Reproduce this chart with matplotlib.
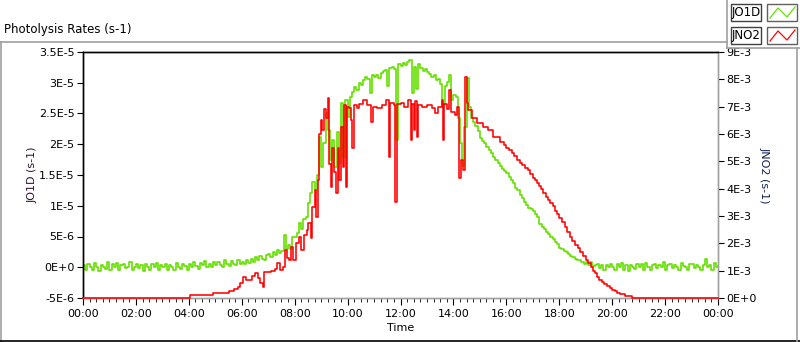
import numpy as np
import matplotlib
matplotlib.use('Agg')
import matplotlib.pyplot as plt
from matplotlib.lines import Line2D
from matplotlib.patches import Rectangle
from matplotlib.ticker import MultipleLocator, FuncFormatter

# JO1D, 5-minute samples from 00:00 to 24:00, in 1E-6 s-1 (one row per hour)
jo1d_e6 = [
    0.3, -0.5, 0.6, 0.1, -0.4, 0.7, 0.0, -0.6, 0.4, 0.1, -0.3, 0.8,
    -0.4, 0.5, 0.0, 0.7, -0.5, 0.3, 0.6, -0.2, 0.1, 0.9, -0.4, 0.0,
    0.5, -0.2, 0.3, -0.6, 0.6, 0.1, -0.4, 0.5, 0.0, 0.7, -0.5, 0.3,
    0.1, 0.6, -0.4, 0.3, 0.0, -0.5, 0.7, 0.1, -0.3, 0.5, 0.2, -0.4,
    0.5, 0.1, 0.8, 0.2, -0.3, 0.7, 0.3, 1.0, 0.1, 0.6, 0.0, 0.8,
    0.3, 0.9, 0.4, 0.1, 1.1, 0.5, 0.2, 1.0, 0.6, 0.3, 1.2, 0.5,
    0.8, 0.5, 1.2, 0.7, 1.4, 0.9, 1.6, 1.1, 1.9, 1.4, 1.2, 2.0,
    2.2, 1.7, 2.5, 2.0, 2.8, 2.3, 2.6, 5.2, 3.0, 3.6, 2.9, 5.0,
    4.9, 5.5, 7.2, 6.3, 7.8, 8.2, 10.4, 12.1, 13.9, 12.6, 15.0, 21.2,
    16.3, 20.2, 25.1, 22.3, 17.4, 20.7, 16.3, 22.0, 17.0, 26.7, 17.9, 27.2,
    24.4, 27.7, 28.5, 29.3, 28.8, 30.0, 29.6, 30.4, 31.0, 30.6, 28.3, 31.2,
    30.9, 31.3, 30.7, 31.6, 31.9, 32.0, 29.5, 32.4, 32.6, 32.2, 20.7, 33.0,
    32.8, 33.2, 32.9, 33.4, 33.7, 28.3, 32.6, 29.0, 33.0, 32.4, 31.9, 32.3,
    31.7, 31.4, 30.9, 31.2, 30.4, 30.6, 29.8, 26.4, 29.5, 30.2, 31.3, 27.2,
    28.0, 27.7, 24.3, 20.2, 16.5, 22.8, 30.8, 26.0, 24.3, 23.6, 23.0, 22.1,
    21.0, 20.6, 20.2, 19.6, 19.1, 18.6, 17.9, 17.4, 17.0, 16.4, 16.0, 15.6,
    15.3, 14.7, 14.2, 13.7, 12.9, 12.5, 11.7, 11.3, 10.6, 10.2, 9.7, 9.5,
    9.1, 8.6, 8.1, 7.0, 6.6, 6.3, 5.8, 5.4, 4.9, 4.6, 4.1, 3.7,
    3.2, 3.0, 2.6, 2.4, 2.1, 1.8, 1.6, 1.3, 1.1, 1.2, 0.8, 0.6,
    0.9, 0.4, 0.8, 0.2, 0.3, 0.6, -0.1, 0.4, -0.4, 0.3, 0.1, 0.6,
    0.1, -0.5, 0.5, 0.0, 0.7, -0.4, 0.3, -0.6, 0.4, 0.1, -0.3, 0.6,
    0.0, 0.5, -0.4, 0.7, 0.1, -0.5, 0.3, 0.6, -0.2, 0.4, 0.0, 0.8,
    -0.4, 0.3, 0.6, -0.2, 0.4, 0.1, -0.5, 0.7, 0.2, 0.0, -0.4, 0.5,
    0.6, -0.2, 0.3, 0.1, -0.5, 0.4, 1.3, 0.0, 0.3, -0.4, 0.7, 0.1,
    0.2,
]
jo1d_hours = np.arange(len(jo1d_e6)) * 5 / 60

# JNO2 change points (hours) and values in 1E-3 s-1
jno2_hours = [
    0.0, 4.05, 4.9, 5.5, 5.7, 5.85, 5.95, 6.05, 6.15, 6.4, 6.5, 6.6, 6.7, 6.8, 6.85,
    7.1, 7.25, 7.35, 7.45, 7.55, 7.62, 7.72, 7.8, 7.88, 7.95, 8.05, 8.15, 8.25, 8.35,
    8.45, 8.52, 8.6, 8.65, 8.75, 8.8, 8.88, 8.93, 9.0, 9.05, 9.12, 9.18, 9.25, 9.3,
    9.37, 9.42, 9.5, 9.57, 9.62, 9.68, 9.75, 9.82, 9.88, 9.93, 9.98, 10.05, 10.12,
    10.18, 10.25, 10.35, 10.45, 10.6, 10.75, 10.88, 10.95, 11.1, 11.3, 11.45, 11.55,
    11.6, 11.75, 11.8, 11.85, 12.0, 12.15, 12.3, 12.38, 12.43, 12.5, 12.55, 12.62,
    12.68, 12.8, 13.0, 13.2, 13.3, 13.4, 13.55, 13.6, 13.65, 13.75, 13.82, 13.92,
    14.05, 14.15, 14.22, 14.3, 14.37, 14.43, 14.5, 14.55, 14.7, 14.9, 15.1, 15.3,
    15.5, 15.75, 15.9, 16.0, 16.1, 16.2, 16.3, 16.4, 16.5, 16.6, 16.7, 16.8, 16.9,
    17.0, 17.08, 17.16, 17.23, 17.3, 17.4, 17.5, 17.58, 17.65, 17.75, 17.85, 17.92,
    18.0, 18.1, 18.2, 18.3, 18.4, 18.5, 18.6, 18.7, 18.8, 18.9, 19.0, 19.1, 19.2,
    19.28, 19.35, 19.42, 19.5, 19.6, 19.7, 19.8, 19.9, 20.0, 20.1, 20.2, 20.3,
    20.5, 20.75, 24.0,
]
jno2_e3 = [
    0.0, 0.11, 0.18, 0.26, 0.33, 0.40, 0.55, 0.77, 0.66, 0.80, 0.91, 0.75, 0.55, 0.40, 0.95,
    0.98, 1.06, 1.28, 1.02, 1.13, 1.75, 1.45, 1.39, 1.86, 1.39, 2.0, 2.23, 1.75, 2.3,
    2.5, 2.74, 2.2, 3.33, 3.95, 2.96, 4.3, 6.0, 6.5, 6.15, 6.9, 6.6, 7.3, 4.9,
    4.06, 5.5, 4.6, 3.84, 5.5, 4.3, 6.26, 4.8, 7.06, 4.06, 7.0, 6.95, 6.5,
    5.5, 7.06, 6.95, 7.1, 7.24, 7.05, 6.44, 7.0, 6.95, 7.05, 7.24, 5.16,
    7.13, 7.05, 3.5, 7.1, 7.13, 7.0, 7.24, 5.78, 7.1, 6.15, 7.2, 5.9,
    7.05, 7.0, 7.05, 6.95, 6.77, 7.0, 7.24, 5.78, 7.1, 6.9, 7.6, 6.8,
    6.7, 7.0, 4.39, 5.05, 4.7, 8.09, 7.13, 6.88, 6.6, 6.4, 6.26, 6.15,
    5.9, 5.7, 5.6, 5.5, 5.4, 5.3, 5.18, 5.05, 4.95, 4.85, 4.76, 4.68, 4.55,
    4.4, 4.3, 4.2, 4.1, 4.0, 3.85, 3.7, 3.6, 3.48, 3.35, 3.2, 3.07,
    2.93, 2.78, 2.6, 2.42, 2.23, 2.1, 1.95, 1.82, 1.68, 1.55, 1.4, 1.27, 1.13,
    1.0, 0.9, 0.78, 0.66, 0.58, 0.5, 0.43, 0.37, 0.31, 0.25, 0.2, 0.15,
    0.08, 0.0, 0.0,
]

green = '#66e000'
red = '#ff0000'
gray = '#a0a0a0'


def sci_label(v, pos=None):
    if abs(v) < 1e-12:
        return '0E+0'
    e = int(np.floor(np.log10(abs(v)) + 1e-9))
    m = round(v / 10 ** e, 3)
    return f'{m:g}E{e:+d}' if e >= 0 else f'{m:g}E{e}'


plt.rcParams['font.family'] = ['DejaVu Sans']
plt.rcParams['font.size'] = 8

fig = plt.figure(figsize=(8, 3.42), dpi=100)
ax = fig.add_axes([83 / 800, 44 / 342, 635 / 800, 246 / 342])
ax2 = ax.twinx()

ax.plot(jo1d_hours, np.array(jo1d_e6) * 1e-6, color=green, lw=1.2, drawstyle='steps-post')
ax2.plot(jno2_hours, np.array(jno2_e3) * 1e-3, color=red, lw=1.15, drawstyle='steps-post',
         clip_on=False, zorder=3)

ax.set_xlim(0, 24)
ax.set_ylim(-5e-6, 3.5e-5)
ax2.set_ylim(0, 9e-3)

ax.xaxis.set_major_locator(MultipleLocator(2))
ax.xaxis.set_minor_locator(MultipleLocator(0.25))
ax.xaxis.set_major_formatter(FuncFormatter(lambda h, p: f'{int(round(h)) % 24:02d}:00'))
ax.yaxis.set_major_locator(MultipleLocator(5e-6))
ax.yaxis.set_major_formatter(FuncFormatter(sci_label))
ax2.yaxis.set_major_locator(MultipleLocator(1e-3))
ax2.yaxis.set_major_formatter(FuncFormatter(sci_label))

ax.tick_params(axis='x', which='major', length=5, pad=3, labelsize=8)
ax.tick_params(axis='x', which='minor', length=3)
ax.tick_params(axis='y', length=4, pad=2, labelsize=8)
ax2.tick_params(axis='y', length=4, pad=2, labelsize=8)

for a in (ax, ax2):
    a.spines['left'].set_color('black')
    a.spines['top'].set_color('black')
    a.spines['right'].set_color(gray)
    a.spines['bottom'].set_color(gray)
    for s in a.spines.values():
        s.set_linewidth(1.0)

ax.set_xlabel('Time', fontsize=8, labelpad=3)
ax.set_ylabel('JO1D (s-1)', fontsize=8, color='#301030', labelpad=1)
ax2.set_ylabel('JNO2 (s-1)', fontsize=8, color='#102050', rotation=-90, labelpad=9)

# panel frame and title
fig.add_artist(Line2D([0, 727 / 800], [1 - 42 / 342] * 2, color=gray, lw=1.2))
fig.add_artist(Line2D([0.6 / 800] * 2, [1 - 42 / 342, 0], color=gray, lw=1.2))
fig.add_artist(Line2D([0, 1], [0.8 / 342] * 2, color='black', lw=1.2))
fig.add_artist(Line2D([797 / 800] * 2, [1 - 48 / 342, 0], color=gray, lw=1.2))
fig.text(4 / 800, 1 - 30 / 342, 'Photolysis Rates (s-1)', fontsize=8.5, va='center', ha='left')

# legend panel
fig.add_artist(Line2D([727 / 800] * 2, [1, 1 - 48 / 342], color=gray, lw=1.2))
fig.add_artist(Line2D([727 / 800, 1], [1 - 48 / 342] * 2, color=gray, lw=1.2))
for i, (name, col) in enumerate([('JO1D', green), ('JNO2', red)]):
    top = 4 + i * 23
    fig.add_artist(Rectangle((731 / 800, 1 - (top + 17) / 342), 30 / 800, 17 / 342,
                             transform=fig.transFigure, fill=False, ec='#404040', lw=1))
    fig.add_artist(Rectangle((767 / 800, 1 - (top + 17) / 342), 30 / 800, 17 / 342,
                             transform=fig.transFigure, fill=False, ec='#606060', lw=1))
    fig.text(746 / 800, 1 - (top + 8.5) / 342, name, fontsize=8.5, ha='center', va='center')
    zx = [770, 778, 787, 795]
    zy = [top + 14, top + 4, top + 13, top + 3]
    fig.add_artist(Line2D([x / 800 for x in zx], [1 - y / 342 for y in zy], color=col, lw=0.9))

fig.savefig('out.png', dpi=100)
